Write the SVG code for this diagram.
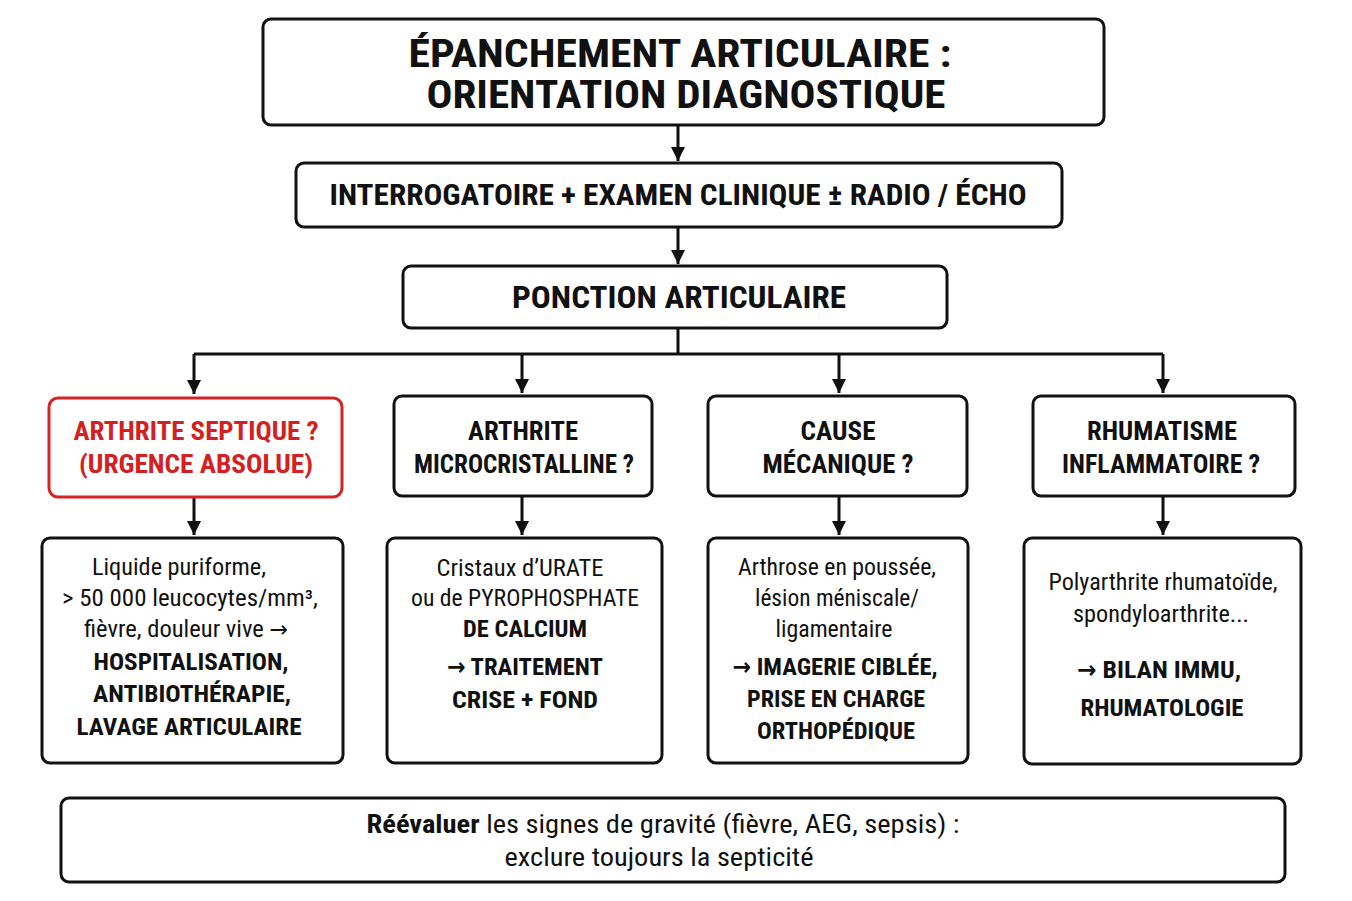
<svg xmlns="http://www.w3.org/2000/svg" width="1352" height="901" viewBox="0 0 1352 901">
<defs>
<marker id="ah" markerWidth="16" markerHeight="14" refX="14" refY="7" orient="auto" markerUnits="userSpaceOnUse">
<path d="M0,0 L14,7 L0,14 Z" fill="#111"/>
</marker>
<style>
.box{fill:#fff;stroke:#111;stroke-width:3}
.red{fill:#fff;stroke:#d42424;stroke-width:3}
text{font-family:"Roboto Condensed","Liberation Sans Narrow","DejaVu Sans Condensed",Roboto,sans-serif;text-anchor:middle;fill:#111}
.b{font-weight:bold}
.r{font-weight:normal}
.rt{fill:#d42020;font-weight:bold}
.c{fill:none;stroke:#111;stroke-width:3}
</style>
</defs>
<rect width="1352" height="901" fill="#fff"/>

<g id="connectors">
<path class="c" d="M678,125 V161" marker-end="url(#ah)"/>
<path class="c" d="M678,227 V264" marker-end="url(#ah)"/>
<path class="c" d="M678,328 V354"/>
<path class="c" d="M194,354 H1163"/>
<path class="c" d="M194,354 V394" marker-end="url(#ah)"/>
<path class="c" d="M522,354 V393" marker-end="url(#ah)"/>
<path class="c" d="M839,354 V393" marker-end="url(#ah)"/>
<path class="c" d="M1163,354 V393" marker-end="url(#ah)"/>
<path class="c" d="M194,497 V535" marker-end="url(#ah)"/>
<path class="c" d="M522,496 V535" marker-end="url(#ah)"/>
<path class="c" d="M839,496 V535" marker-end="url(#ah)"/>
<path class="c" d="M1163,496 V535" marker-end="url(#ah)"/>
</g>

<g id="title">
<rect class="box" x="263" y="19" width="841" height="106" rx="8"/>
<text class="b" x="680" y="67" font-size="38" textLength="543" lengthAdjust="spacingAndGlyphs">ÉPANCHEMENT ARTICULAIRE :</text>
<text class="b" x="686" y="108" font-size="38" textLength="519" lengthAdjust="spacingAndGlyphs">ORIENTATION DIAGNOSTIQUE</text>
</g>

<g id="interrogatoire">
<rect class="box" x="296" y="163" width="766" height="64" rx="8"/>
<text class="b" x="678" y="205" font-size="30" textLength="697" lengthAdjust="spacingAndGlyphs">INTERROGATOIRE + EXAMEN CLINIQUE ± RADIO / ÉCHO</text>
</g>

<g id="ponction">
<rect class="box" x="403" y="266" width="544" height="62" rx="8"/>
<text class="b" x="679" y="308" font-size="31" textLength="334" lengthAdjust="spacingAndGlyphs">PONCTION ARTICULAIRE</text>
</g>

<g id="septique">
<rect class="red" x="49" y="398" width="293" height="99" rx="9"/>
<text class="rt" x="196" y="440" font-size="26" textLength="245" lengthAdjust="spacingAndGlyphs">ARTHRITE SEPTIQUE ?</text>
<text class="rt" x="196" y="473" font-size="26" textLength="234" lengthAdjust="spacingAndGlyphs">(URGENCE ABSOLUE)</text>
</g>

<g id="microcristalline">
<rect class="box" x="394" y="396" width="258" height="100" rx="8"/>
<text class="b" x="523" y="440" font-size="26" textLength="110" lengthAdjust="spacingAndGlyphs">ARTHRITE</text>
<text class="b" x="524" y="473" font-size="26" textLength="220" lengthAdjust="spacingAndGlyphs">MICROCRISTALLINE ?</text>
</g>

<g id="mecanique">
<rect class="box" x="708" y="396" width="259" height="100" rx="8"/>
<text class="b" x="838" y="440" font-size="26" textLength="75" lengthAdjust="spacingAndGlyphs">CAUSE</text>
<text class="b" x="838" y="473" font-size="26" textLength="151" lengthAdjust="spacingAndGlyphs">MÉCANIQUE ?</text>
</g>

<g id="inflammatoire">
<rect class="box" x="1033" y="396" width="262" height="100" rx="8"/>
<text class="b" x="1162" y="440" font-size="26" textLength="150" lengthAdjust="spacingAndGlyphs">RHUMATISME</text>
<text class="b" x="1161" y="473" font-size="26" textLength="198" lengthAdjust="spacingAndGlyphs">INFLAMMATOIRE ?</text>
</g>

<g id="septique-detail">
<rect class="box" x="42" y="538" width="301" height="225" rx="8"/>
<text class="r" x="179" y="575" font-size="23" textLength="174" lengthAdjust="spacingAndGlyphs">Liquide puriforme,</text>
<text class="r" x="190" y="606" font-size="23" textLength="256" lengthAdjust="spacingAndGlyphs">&gt; 50 000 leucocytes/mm³,</text>
<text class="r" x="186" y="637" font-size="23" textLength="204" lengthAdjust="spacingAndGlyphs">fièvre, douleur vive →</text>
<text class="b" x="191" y="670" font-size="24" textLength="195" lengthAdjust="spacingAndGlyphs">HOSPITALISATION,</text>
<text class="b" x="192" y="702" font-size="24" textLength="198" lengthAdjust="spacingAndGlyphs">ANTIBIOTHÉRAPIE,</text>
<text class="b" x="189" y="735" font-size="24" textLength="225" lengthAdjust="spacingAndGlyphs">LAVAGE ARTICULAIRE</text>
</g>

<g id="microcristalline-detail">
<rect class="box" x="387" y="538" width="275" height="225" rx="8"/>
<text class="r" x="520" y="576" font-size="23" textLength="167" lengthAdjust="spacingAndGlyphs">Cristaux d’URATE</text>
<text class="r" x="525" y="606" font-size="23" textLength="228" lengthAdjust="spacingAndGlyphs">ou de PYROPHOSPHATE</text>
<text class="b" x="525" y="637" font-size="23" font-weight="600" textLength="124" lengthAdjust="spacingAndGlyphs">DE CALCIUM</text>
<text class="b" x="525" y="675" font-size="24" textLength="156" lengthAdjust="spacingAndGlyphs">→ TRAITEMENT</text>
<text class="b" x="525" y="708" font-size="24" textLength="146" lengthAdjust="spacingAndGlyphs">CRISE + FOND</text>
</g>

<g id="mecanique-detail">
<rect class="box" x="708" y="538" width="260" height="225" rx="8"/>
<text class="r" x="837" y="575" font-size="23" textLength="198" lengthAdjust="spacingAndGlyphs">Arthrose en poussée,</text>
<text class="r" x="837" y="606" font-size="23" textLength="164" lengthAdjust="spacingAndGlyphs">lésion méniscale/</text>
<text class="r" x="834" y="637" font-size="23" textLength="117" lengthAdjust="spacingAndGlyphs">ligamentaire</text>
<text class="b" x="835" y="675" font-size="24" textLength="205" lengthAdjust="spacingAndGlyphs">→ IMAGERIE CIBLÉE,</text>
<text class="b" x="836" y="707" font-size="24" textLength="178" lengthAdjust="spacingAndGlyphs">PRISE EN CHARGE</text>
<text class="b" x="836" y="739" font-size="24" textLength="158" lengthAdjust="spacingAndGlyphs">ORTHOPÉDIQUE</text>
</g>

<g id="inflammatoire-detail">
<rect class="box" x="1024" y="538" width="277" height="226" rx="8"/>
<text class="r" x="1163" y="590" font-size="23" textLength="229" lengthAdjust="spacingAndGlyphs">Polyarthrite rhumatoïde,</text>
<text class="r" x="1161" y="622" font-size="23" textLength="176" lengthAdjust="spacingAndGlyphs">spondyloarthrite...</text>
<text class="b" x="1159" y="678" font-size="24" textLength="164" lengthAdjust="spacingAndGlyphs">→ BILAN IMMU,</text>
<text class="b" x="1162" y="716" font-size="24" textLength="163" lengthAdjust="spacingAndGlyphs">RHUMATOLOGIE</text>
</g>

<g id="reevaluer">
<rect class="box" x="61" y="798" width="1224" height="84" rx="8"/>
<text class="r" x="663" y="833" font-size="25" textLength="593" lengthAdjust="spacingAndGlyphs"><tspan class="b">Réévaluer</tspan> les signes de gravité (fièvre, AEG, sepsis) :</text>
<text class="r" x="659" y="866" font-size="25" textLength="309" lengthAdjust="spacingAndGlyphs">exclure toujours la septicité</text>
</g>
</svg>
